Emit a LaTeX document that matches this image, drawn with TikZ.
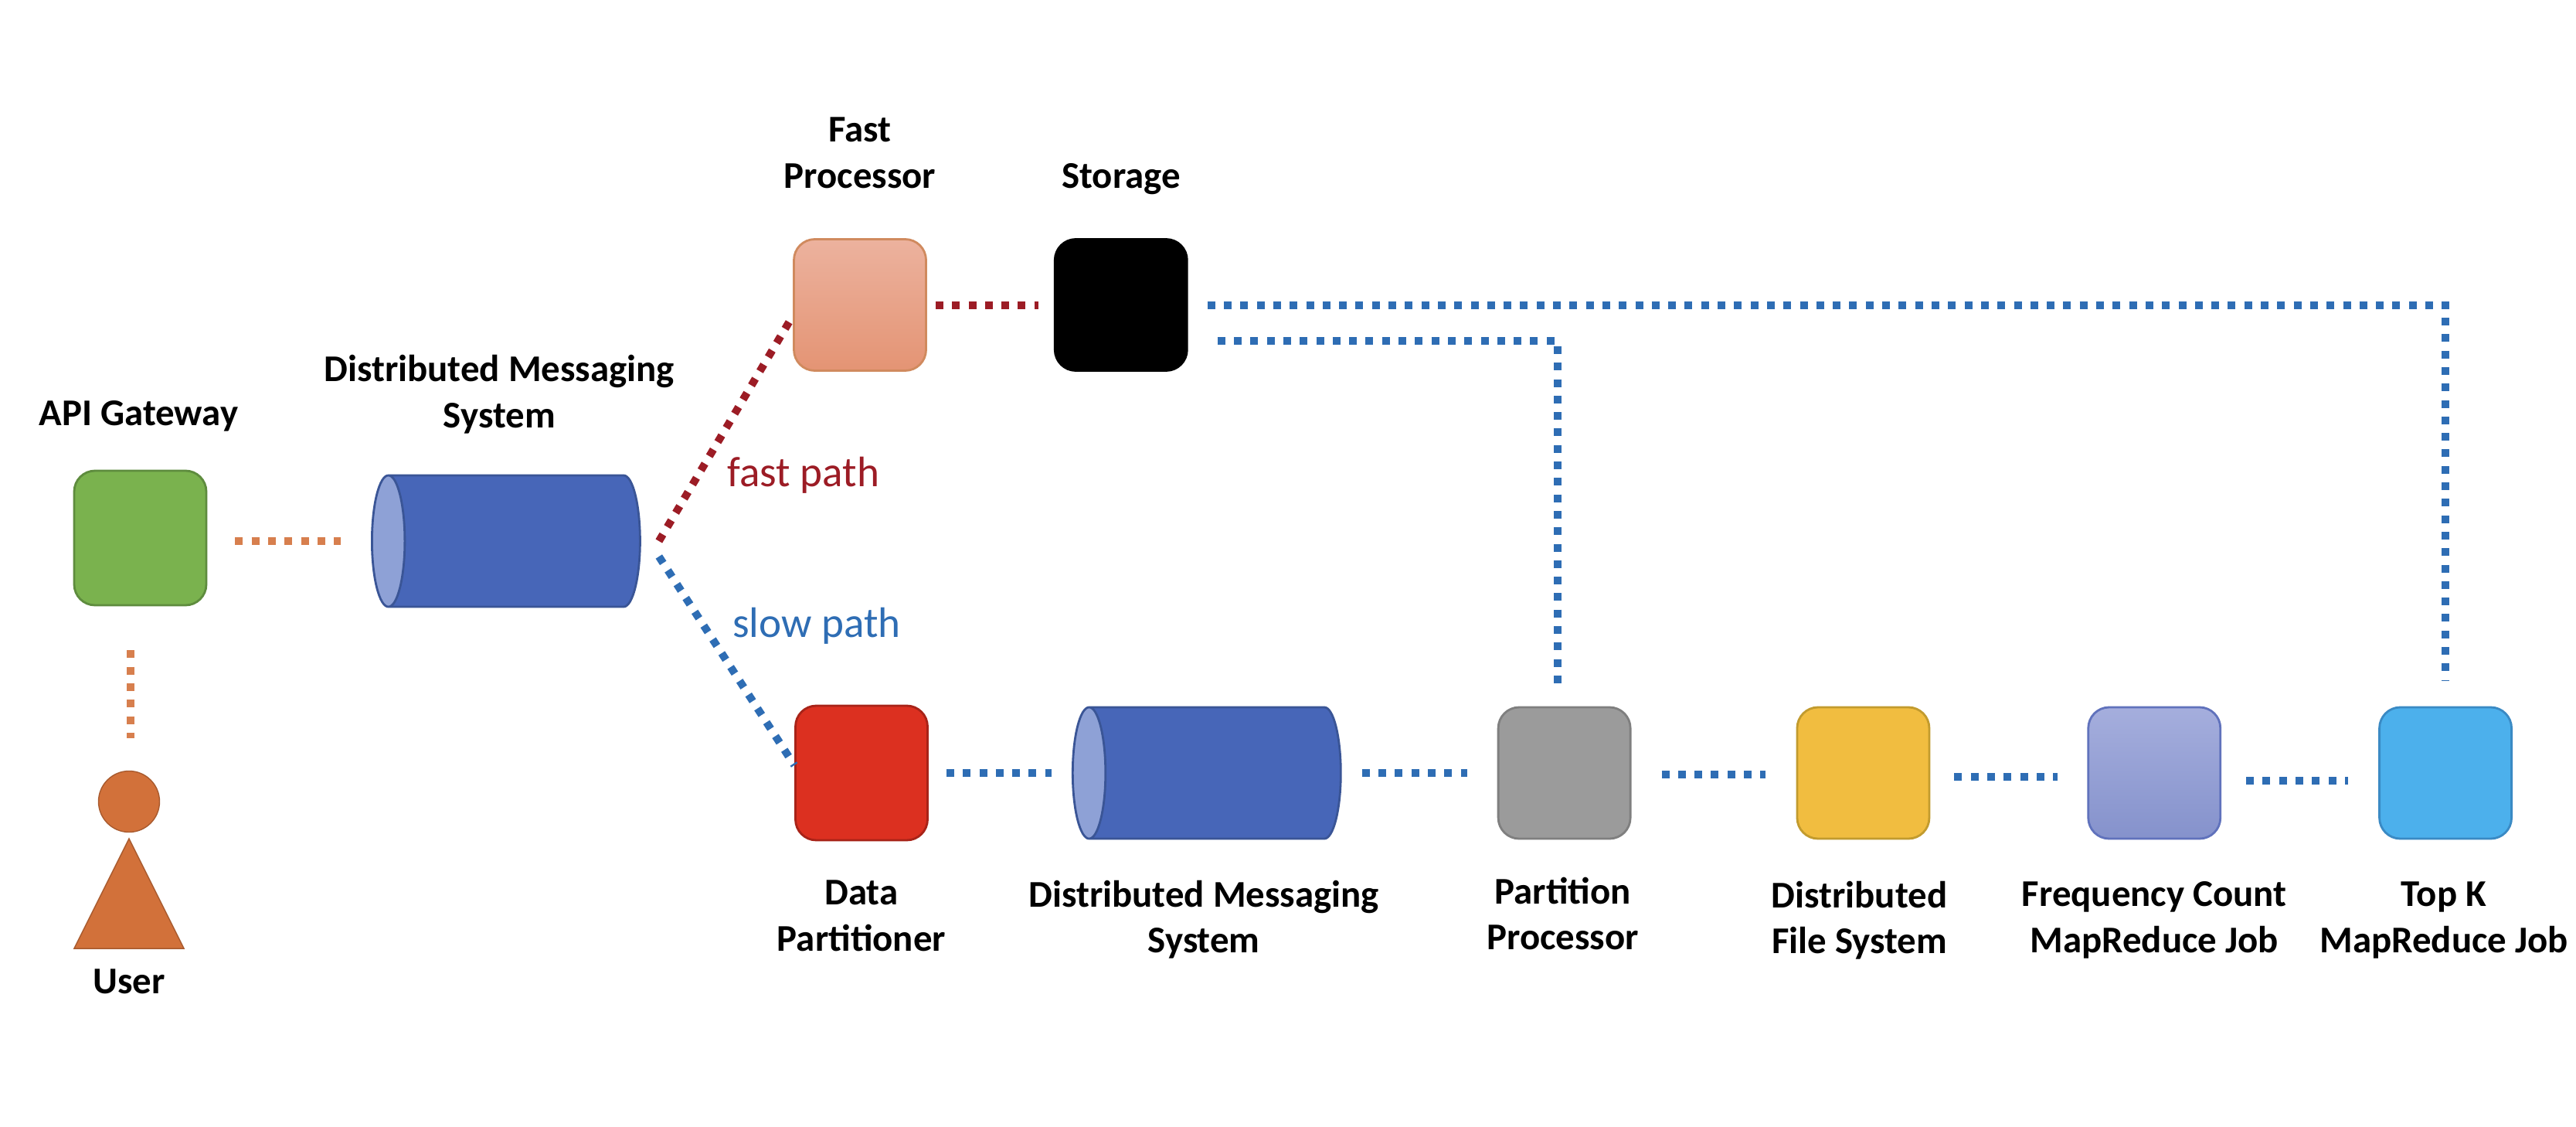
\documentclass[tikz,border=0pt]{standalone}
\usepackage{fontspec}
\setmainfont{Carlito}
\usetikzlibrary{positioning,shapes.geometric}
\definecolor{slowblue}{HTML}{2E6DB4}
\definecolor{fastred}{HTML}{9C1C25}
\definecolor{useror}{HTML}{D2713A}
\definecolor{useredge}{HTML}{A85A2E}
\definecolor{queuebody}{HTML}{4766B8}
\definecolor{queueend}{HTML}{8EA1D6}
\definecolor{queueedge}{HTML}{3A5596}
\definecolor{gategreen}{HTML}{7AB24E}
\definecolor{gateedge}{HTML}{5E8C3E}
\definecolor{fasttop}{HTML}{ECB29E}
\definecolor{fastbot}{HTML}{E49474}
\definecolor{fastedge}{HTML}{D08A5E}
\definecolor{splitred}{HTML}{DC3020}
\definecolor{splitedge}{HTML}{A82318}
\definecolor{procgray}{HTML}{9B9B9B}
\definecolor{procedge}{HTML}{7F7F7F}
\definecolor{dfsyellow}{HTML}{F1BD40}
\definecolor{dfsedge}{HTML}{C29B2E}
\definecolor{freqtop}{HTML}{A5AEDD}
\definecolor{freqbot}{HTML}{8592CC}
\definecolor{freqedge}{HTML}{6072BC}
\definecolor{topkblue}{HTML}{4CB0EC}
\definecolor{topkedge}{HTML}{3A8AC4}
\newcommand{\queuespan}{\rule{0pt}{1.7cm}}
\tikzset{box/.style={rectangle,draw,rounded corners=.27cm,minimum width=1.71cm,minimum height=1.7cm,inner sep=0pt,line width=.8pt},
	 queue/.style={cylinder,shape border rotate=180,shape aspect=.25,draw=queueedge,line width=.8pt,cylinder uses custom fill,
		cylinder body fill=queuebody,cylinder end fill=queueend,minimum height=3.47cm,minimum width=1.7cm,inner sep=0pt},
	 boxname/.style={font=\bfseries\fontsize{13.9}{17}\selectfont,align=center,text=black},
	 pathname/.style={font=\fontsize{15.7}{17}\selectfont},
	 link/.style={line width=.1cm,dash pattern=on .1cm off .113cm},
	 fastlink/.style={link,draw=fastred},
	 slowlink/.style={link,draw=slowblue},
	 userlink/.style={link,draw=useror!90!white}
	 }
\begin{document}
\begin{tikzpicture}
        \useasboundingbox (0,0) rectangle (33.34,-14.58);
        \node[box,minimum height=1.74cm,draw=gateedge,fill=gategreen] (gateway) at (1.815,-6.96) [label={[boxname,label distance=.37cm,xshift=-.02cm]above:API Gateway}] {};
        \node[queue,anchor=west] (dms1) at (4.8,-7.0) [label={[boxname,label distance=.4cm,xshift=-.2cm]above:Distributed Messaging\\System}] {\queuespan};
        \node[box,draw=fastedge,top color=fasttop,bottom color=fastbot] (fast) at (11.13,-3.945) [label={[boxname,label distance=.52cm]above:Fast\\Processor}] {};
        \node[box,fill=black] (storage) [right=1.64cm of fast] [label={[boxname,label distance=.44cm]above:Storage}] {};
        \node[box,minimum height=1.74cm,draw=splitedge,fill=splitred] (splitter) at (11.15,-10.0) [label={[boxname,label distance=.38cm]below:Data\\Partitioner}] {};
        \node[queue] (dms2) [right=1.85cm of splitter] [label={[boxname,label distance=.4cm,xshift=-.15cm]below:Distributed Messaging\\System}] {\queuespan};
        \node[box,draw=procedge,fill=procgray] (partproc) [right=2.01cm of dms2] [label={[boxname,label distance=.36cm,xshift=-.02cm]below:Partition\\Processor}] {};
        \node[box,draw=dfsedge,fill=dfsyellow] (dfs) [right=2.13cm of partproc] [label={[boxname,label distance=.41cm,xshift=-.05cm]below:Distributed\\File System}] {};
        \node[box,draw=freqedge,top color=freqtop,bottom color=freqbot] (freq) [right=2.03cm of dfs] [label={[boxname,label distance=.42cm]below:Frequency Count\\MapReduce Job}] {};
        \node[box,draw=topkedge,fill=topkblue] (topk) [right=2.03cm of freq] [label={[boxname,label distance=.42cm,xshift=-.02cm]below:Top K\\MapReduce Job}] {};
        \node[circle,draw=useredge,fill=useror,minimum size=.79cm,inner sep=0pt] (head) at (1.67,-10.37) {};
        \node[isosceles triangle,isosceles triangle stretches,shape border rotate=90,draw=useredge,fill=useror,minimum width=1.42cm,minimum height=1.42cm,inner sep=0pt] (body) [below=.06cm of head] [label={[boxname,label distance=.14cm]below:User}] {};
        \node[pathname,text=fastred] (fastname) at (10.4,-6.15) {fast path};
        \node[pathname,text=slowblue] (slowname) at (10.57,-8.1) {slow path};
        \coordinate (forkfast) at ([xshift=.23cm]dms1.east);
        \coordinate (forkslow) at ([shift={(.23,-.2)}]dms1.east);
        \draw[userlink,shorten <=.36cm,shorten >=.39cm] (gateway.east |- dms1.west) to (dms1.west);
        \draw[userlink,shorten <=.57cm,shorten >=.42cm] ([xshift=.02cm]head.north |- gateway.south) to ([xshift=.02cm]head.north);
        \draw[fastlink] (forkfast) to ([yshift=-.14cm]fast.west);
        \draw[fastlink,shorten <=.11cm,shorten >=.2cm] (fast.east) to (storage.west);
        \draw[slowlink] (forkslow) to ([yshift=.1cm]splitter.west);
        \draw[slowlink,shorten <=.23cm,shorten >=.26cm] (splitter.east) to (dms2.west);
        \draw[slowlink,shorten <=.26cm,shorten >=.39cm] (dms2.east) to (partproc.west);
        \draw[slowlink,shorten <=.39cm,shorten >=.4cm] ([yshift=-.02cm]partproc.east) to ([yshift=-.02cm]partproc.east -| dfs.west);
        \draw[slowlink,shorten <=.31cm,shorten >=.38cm] ([yshift=-.05cm]dfs.east) to ([yshift=-.05cm]dfs.east -| freq.west);
        \draw[slowlink,shorten <=.32cm,shorten >=.39cm] ([yshift=-.1cm]freq.east) to ([yshift=-.1cm]freq.east -| topk.west);
        \draw[slowlink,shorten <=.25cm,shorten >=.33cm] (storage.east) -| (topk.north);
        \draw[slowlink,shorten <=.38cm,shorten >=.25cm] ([yshift=-.46cm]storage.east) -| ([xshift=-.09cm]partproc.north);
\end{tikzpicture}
\end{document}
